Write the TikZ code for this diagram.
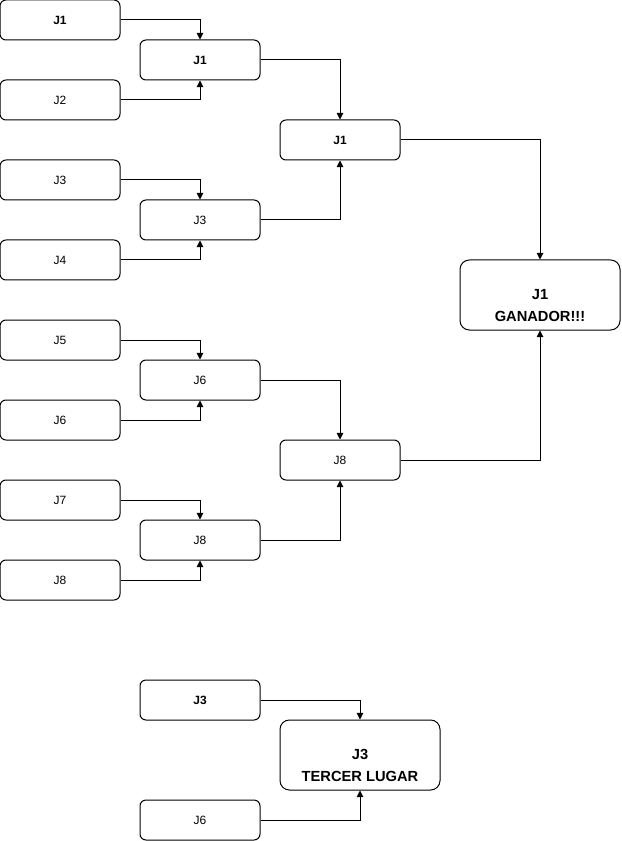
\documentclass[tikz,border=0pt]{standalone}
\usepackage{fontspec}
\setmainfont{Liberation Sans}
\usetikzlibrary{arrows.meta,positioning}

\begin{document}
\begin{tikzpicture}[
  x=0.75pt, y=-0.75pt,
  font=\fontsize{9}{11}\selectfont,
  player/.style={draw=black, line width=0.75pt, rounded corners=4.5pt, align=center,
                 minimum width=90pt, minimum height=30pt, inner sep=0pt},
  winner/.style={player, rounded corners=7pt, font=\fontsize{11}{16.5}\selectfont\bfseries,
                 minimum width=120pt, minimum height=52.5pt},
  arrow/.style={-{Triangle[length=5pt, width=5pt]}, line width=0.75pt, draw=black}
]
  \useasboundingbox (0,0) rectangle (621,841);

  % primera ronda
  \node[player, font=\fontsize{9}{11}\selectfont\bfseries] (p1) at (60,20) {J1};
  \node[player] (p2) at (60,100) {J2};
  \node[player] (p3) at (60,180) {J3};
  \node[player] (p4) at (60,260) {J4};
  \node[player] (p5) at (60,340) {J5};
  \node[player] (p6) at (60,420) {J6};
  \node[player] (p7) at (60,500) {J7};
  \node[player] (p8) at (60,580) {J8};

  % cuartos
  \node[player, font=\fontsize{9}{11}\selectfont\bfseries] (q1) at (200,60) {J1};
  \node[player] (q2) at (200,220) {J3};
  \node[player] (q3) at (200,380) {J6};
  \node[player] (q4) at (200,540) {J8};

  % semifinal
  \node[player, font=\fontsize{9}{11}\selectfont\bfseries] (s1) at (340,140) {J1};
  \node[player] (s2) at (340,460) {J8};

  % final
  \node[winner] (win) at (540,295)
    {\raisebox{-11pt}[0pt][0pt]{\begin{tabular}{@{}c@{}}J1\\GANADOR!!!\end{tabular}}};

  % tercer lugar
  \node[player, font=\fontsize{9}{11}\selectfont\bfseries] (t1) at (200,700) {J3};
  \node[player] (t2) at (200,820) {J6};
  \node[winner] (third) at (360,755)
    {\raisebox{-11pt}[0pt][0pt]{\begin{tabular}{@{}c@{}}J3\\TERCER LUGAR\end{tabular}}};

  \draw[arrow] (p1.east) -| (q1.north);
  \draw[arrow] (p2.east) -| (q1.south);
  \draw[arrow] (p3.east) -| (q2.north);
  \draw[arrow] (p4.east) -| (q2.south);
  \draw[arrow] (p5.east) -| (q3.north);
  \draw[arrow] (p6.east) -| (q3.south);
  \draw[arrow] (p7.east) -| (q4.north);
  \draw[arrow] (p8.east) -| (q4.south);
  \draw[arrow] (q1.east) -| (s1.north);
  \draw[arrow] (q2.east) -| (s1.south);
  \draw[arrow] (q3.east) -| (s2.north);
  \draw[arrow] (q4.east) -| (s2.south);
  \draw[arrow] (s1.east) -| (win.north);
  \draw[arrow] (s2.east) -| (win.south);
  \draw[arrow] (t1.east) -| (third.north);
  \draw[arrow] (t2.east) -| (third.south);
\end{tikzpicture}
\end{document}
